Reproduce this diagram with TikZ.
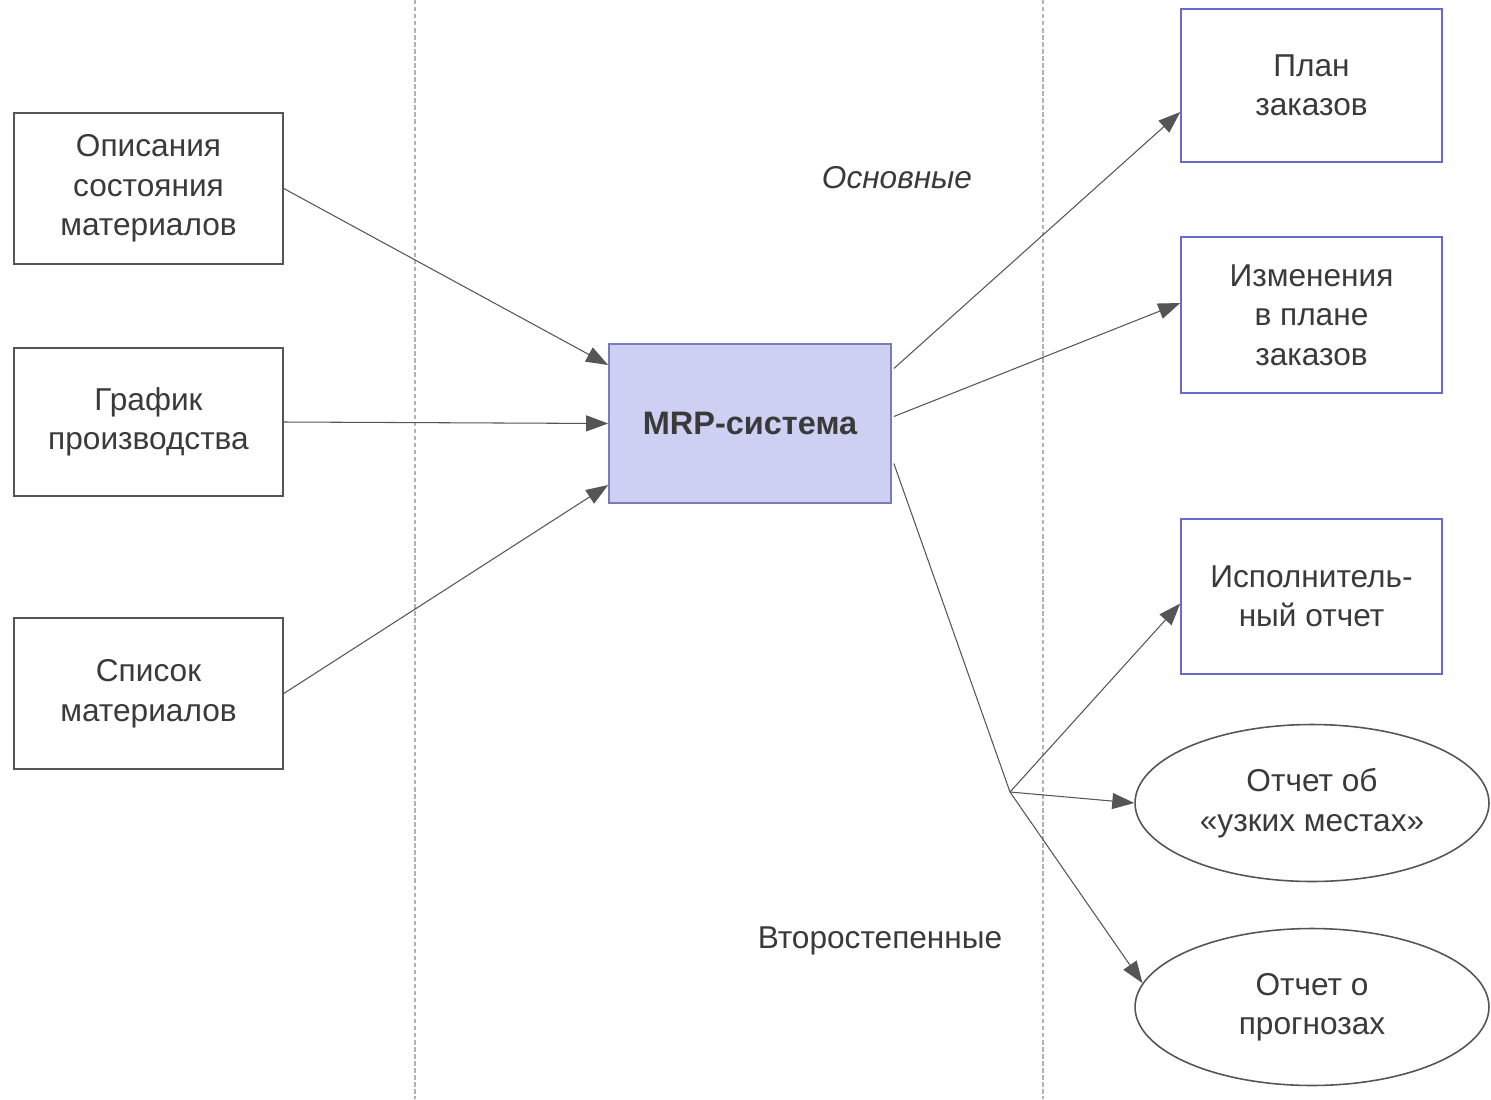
\documentclass[tikz,border=0pt]{standalone}
\usepackage{fontspec}
\setmainfont{Liberation Sans}
\usetikzlibrary{arrows.meta,shapes.geometric,calc}
\definecolor{txt}{HTML}{3A3A3A}
\definecolor{ln}{HTML}{555555}
\definecolor{bluebd}{HTML}{6A6AC8}
\definecolor{mrpfill}{HTML}{CDD0F2}
\definecolor{mrpbd}{HTML}{7C7CB4}
\tikzset{
  boxfont/.style={font=\fontsize{18}{22.5}\selectfont},
  inbox/.style={draw=ln, line width=0.9pt, minimum width=5.38cm, inner sep=0pt, align=center, text=txt, boxfont},
  outbox/.style={draw=bluebd, line width=0.9pt, minimum width=5.22cm, inner sep=0pt, align=center, text=txt, boxfont},
  outell/.style={ellipse, draw=ln, line width=0.9pt, minimum width=7.08cm, minimum height=3.14cm, inner sep=0pt, align=center, text=txt, boxfont},
  mrpbox/.style={draw=mrpbd, fill=mrpfill, line width=1pt, minimum width=5.64cm, minimum height=3.18cm, inner sep=0pt, text=txt, font=\fontsize{18.5}{23}\selectfont\bfseries},
  conn/.style={draw=ln, line width=0.6pt},
  arr/.style={conn, -{Triangle[length=0.44cm,width=0.32cm]}},
  divider/.style={draw=gray!60, line width=0.7pt, dash pattern=on 2.5pt off 1.5pt},
  lbl/.style={text=txt, font=\fontsize{18}{22}\selectfont, inner sep=0pt}
}
\begin{document}
\begin{tikzpicture}[x=0.02cm,y=-0.02cm]
\useasboundingbox (0,0) rectangle (1491,1099);
\coordinate (d1t) at (415,0); \coordinate (d1b) at (415,1099);
\coordinate (d2t) at (1043,0); \coordinate (d2b) at (1043,1099);
\draw[divider] (d1t) -- (d1b);
\draw[divider] (d2t) -- (d2b);

\node[inbox, minimum height=3.02cm] (b1) at (148.5,188.5) {Описания\\состояния\\материалов};
\node[inbox, minimum height=2.96cm] (b2) at (148.5,422) {График\\производства};
\node[inbox, minimum height=3.02cm] (b3) at (148.5,693.5) {Список\\материалов};

\node[mrpbox] (mrp) at (750,423.5) {MRP-система};

\node[outbox, minimum height=3.06cm] (p1) at (1311.5,85.5) {План\\заказов};
\node[outbox, minimum height=3.12cm] (p2) at (1311.5,315) {Изменения\\в плане\\заказов};
\node[outbox, minimum height=3.10cm] (p3) at (1311.5,596.5) {Исполнитель-\\ный отчет};
\node[outell] (e1) at (1312,803) {Отчет об\\«узких местах»};
\node[outell] (e2) at (1312,1007) {Отчет о\\прогнозах};

\node[lbl, font=\fontsize{18}{22}\selectfont\itshape] (main) at (897,178) {Основные};
\node[lbl] (sec) at (880,941) {Второстепенные};

\coordinate (j) at (1010,792);

\draw[arr] (b1.east) -- ($(mrp.west)+(0,-58.5)$);
\draw[arr] (b2.east) -- (mrp.west);
\draw[arr] (b3.east) -- ($(mrp.west)+(0,61.5)$);

\draw[arr] ($(mrp.east)+(2,-55)$) -- ($(p1.west)+(0,26.5)$);
\draw[arr] ($(mrp.east)+(2,-7)$) -- ($(p2.west)+(0,-12)$);
\draw[conn] ($(mrp.east)+(2,40)$) -- (j);
\draw[arr] (j) -- ($(p3.west)+(0,7)$);
\draw[arr] (j) -- (e1.west);
\draw[arr] (j) -- (e2.172);
\end{tikzpicture}
\end{document}
